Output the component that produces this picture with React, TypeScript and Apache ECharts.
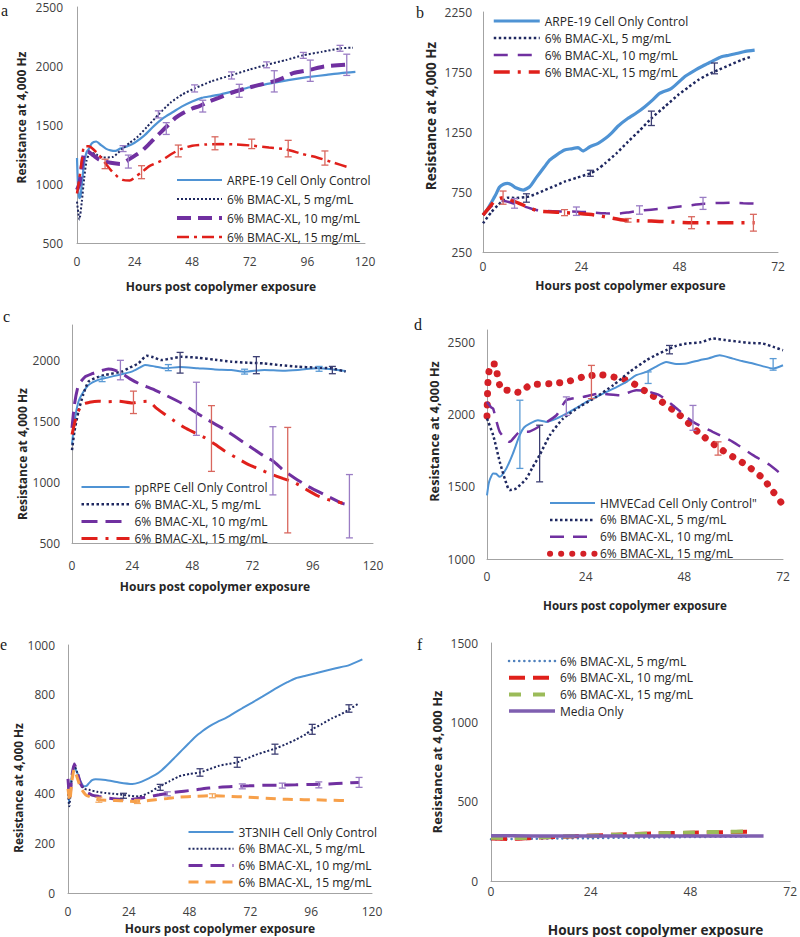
import React, { useEffect, useRef } from 'react';
import * as echarts from 'echarts';

// ---------- Data (hours, resistance) ----------
// Panel a: ARPE-19, 0-120 h
const aControl = [[0,1220],[0.5,950],[1,880],[1.5,900],[2,1000],[3,1180],[4,1270],[5,1300],[6,1340],[7,1355],[8,1360],[10,1330],[12,1300],[14,1285],[16,1280],[18,1300],[21,1320],[24,1350],[28,1410],[32,1490],[36,1560],[40,1610],[44,1660],[48,1700],[52,1730],[56,1745],[60,1760],[66,1790],[72,1820],[80,1850],[88,1880],[96,1905],[104,1925],[110,1940],[116,1950]];
const aFive = [[0,850],[0.5,760],[1,700],[2,850],[3,1050],[4,1200],[5,1250],[6,1265],[8,1250],[11,1225],[15,1230],[19,1300],[22,1350],[25,1395],[29,1480],[34,1590],[39,1690],[44,1760],[49,1810],[56,1870],[64,1920],[72,1970],[79,2010],[87,2050],[94,2090],[102,2120],[110,2150],[115,2155]];
const aTen = [[0,950],[1,1000],[2,1150],[3,1265],[4,1275],[5,1270],[7,1240],[9,1210],[11,1195],[14,1180],[18,1170],[21,1200],[23,1226],[27,1280],[30,1338],[33,1400],[35,1440],[38,1500],[41,1560],[44,1600],[48,1640],[51,1660],[54,1690],[59,1730],[64,1770],[70,1808],[76,1840],[82,1870],[86,1900],[90,1940],[97,1968],[103,1996],[112,2010]];
const aFifteen = [[0,920],[1,1050],[2,1200],[3,1320],[5,1320],[7,1290],[9,1250],[11,1196],[14,1120],[17,1060],[19,1035],[22,1030],[25,1070],[27,1100],[30,1150],[35,1196],[39,1250],[43,1294],[48,1325],[54,1335],[60,1338],[66,1335],[72,1327],[80,1310],[87,1294],[94,1254],[100,1225],[107,1180],[113,1142]];
// error bars: [hour, mean, sd]
const aFiveErr = [[19.2,1300,25],[33.9,1590,30],[49,1810,30],[64.4,1920,30],[79,2010,25],[94.3,2090,25],[109.6,2150,25]];
const aTenErr = [[21.4,1190,55],[37.2,1470,50],[52.4,1660,50],[67.6,1790,55],[82.2,1870,90],[97.2,1960,90],[112.4,2010,90]];
const aFifteenErr = [[11.7,1170,40],[26.9,1100,55],[42.2,1280,50],[57.5,1345,55],[72.8,1340,40],[88,1300,70],[103.3,1220,60]];

// Panel b: ARPE-19, 0-72 h
const bControl = [[0,558],[1,600],[2,660],[3,720],[4,790],[5,815],[6,822],[7,810],[8,785],[9.8,766],[11.4,794],[13,870],[15,960],[16.3,1017],[18,1060],[19.9,1100],[21.5,1110],[23.2,1119],[24.4,1092],[26,1125],[28.1,1156],[30,1200],[31.3,1239],[33,1300],[35.4,1364],[37.5,1410],[39.5,1461],[41.5,1520],[43.1,1572],[46,1614],[49.2,1711],[51.5,1760],[54.1,1808],[56,1840],[58.2,1878],[60,1890],[62.2,1906],[64,1922],[66.3,1933]];
const bFive = [[0,489],[2,580],[3.7,642],[6.1,703],[8,700],[11,711],[13,735],[15.1,766],[17.5,800],[19.9,836],[23,870],[26.2,906],[28,940],[29.8,989],[32.5,1070],[35.4,1169],[38.3,1265],[41.1,1364],[44.5,1465],[47.6,1558],[50,1620],[52.5,1683],[55,1730],[57.4,1767],[60,1805],[63.1,1850],[65.5,1878]];
const bTen = [[0,558],[2,630],[3.7,675],[5,675],[6.9,661],[9,640],[11,620],[13,600],[15.1,592],[19,588],[23.2,586],[27.3,578],[30,572],[33,570],[35.5,580],[37.8,592],[41,603],[44.4,614],[47,625],[49.2,633],[52,645],[54.1,653],[57,658],[60.6,661],[63.5,657],[66.3,653]];
const bFifteen = [[0,558],[1.5,620],[2.85,675],[4.9,703],[7,680],[9.4,647],[11.5,615],[13.4,592],[16,585],[19.9,578],[23.5,570],[27.3,558],[31,535],[34.6,514],[38,510],[41.1,508],[45,502],[50.9,494],[56,494],[61,494],[66.3,494]];
const bFiveErr = [[10.6,700,35],[26.2,906,25],[41.1,1364,60],[56.5,1780,45]];
const bTenErr = [[7.7,655,40],[22.8,590,35],[38.2,600,35],[53.7,655,50]];
const bFifteenErr = [[4.9,703,55],[19.9,578,25],[35.4,514,15],[50.9,494,50],[66,494,70]];

// Panel c: ppRPE, 0-120 h
const cControl = [[0,1307],[1,1500],[2.6,1662],[4.5,1740],[6.6,1798],[10.5,1839],[14.5,1860],[18.5,1880],[23.8,1907],[27,1940],[29.1,1962],[33,1950],[37,1935],[43,1945],[50.2,1935],[57,1925],[63.5,1921],[68.8,1907],[76.7,1921],[84,1915],[90,1921],[97.9,1935],[104,1925],[109.1,1913]];
const cFive = [[0,1263],[1,1420],[2.6,1582],[4.5,1720],[6.6,1825],[10,1860],[13.2,1880],[19.8,1907],[23,1940],[26.5,1975],[29.8,2037],[32.5,2025],[35.7,2002],[39.5,2015],[43.7,2029],[50.3,2021],[57,2005],[63.5,1989],[70,1980],[76.7,1975],[83,1960],[90,1948],[97,1940],[103.2,1935],[109.1,1907]];
const cTen = [[0,1446],[1,1640],[2.6,1798],[5.3,1866],[8,1890],[10.5,1907],[14.5,1929],[17,1920],[19.8,1893],[23,1850],[26.5,1811],[32,1765],[37.1,1716],[43.7,1648],[48,1590],[53,1525],[60.9,1430],[68.8,1321],[76.7,1212],[80,1175],[84.7,1090],[89,1030],[93.9,967],[101.9,885],[107.8,825],[110,815]];
const cFifteen = [[0,1391],[1,1480],[2,1555],[4,1637],[7,1655],[10.5,1664],[14,1660],[18.5,1664],[23.8,1650],[27,1660],[30.4,1664],[33.5,1610],[37.1,1555],[41,1500],[45,1446],[49,1405],[53,1364],[57,1310],[60.9,1255],[65.5,1200],[70.2,1146],[74.8,1105],[79.4,1065],[84,1030],[88.7,997],[93,945],[97.9,888],[103,850],[107.8,829]];
const cControlErr = [[12,1845,20],[38.4,1940,25],[68.8,1907,20],[98.5,1930,20]];
const cFiveErr = [[43.1,1980,85],[73.5,1960,70],[103.8,1920,30]];
const cTenErr = [[19.3,1920,80],[49.6,1602,218],[80.1,1175,280],[110.6,802,260]];
const cFifteenErr = [[24.5,1655,92],[55.6,1358,270],[86,1016,433]];

// Panel d: HMVECad, 0-72 h
const dControl = [[0,1440],[0.4,1520],[0.8,1558],[1.5,1592],[2.2,1590],[3.1,1569],[4.7,1627],[6.3,1730],[7.95,1857],[9,1910],[10.4,1937],[12.4,1960],[14.4,1949],[16.9,1972],[20.1,2018],[22,2050],[24.2,2087],[26.5,2120],[29,2156],[31.5,2190],[33.9,2226],[36.3,2272],[38.8,2295],[41,2330],[43.6,2364],[46,2350],[48.5,2353],[51.7,2376],[54,2390],[56.6,2410],[59.8,2387],[62,2370],[64.7,2353],[67,2335],[69.6,2318],[72,2341]];
const dFive = [[0,1972],[1.5,1857],[3.1,1673],[4.5,1540],[5.5,1477],[7.1,1488],[9.6,1558],[11,1630],[12.8,1719],[15.3,1857],[18.5,1972],[22.5,2053],[26.6,2122],[30.7,2203],[34.7,2295],[38.8,2376],[41,2410],[43.6,2445],[46,2475],[48.5,2491],[52,2500],[55,2526],[58,2515],[61.5,2503],[64,2495],[67.1,2491],[70,2465],[72,2445]];
const dTen = [[0,2087],[1,2050],[1.5,2041],[3.1,1880],[5.5,1811],[8,1880],[10,1880],[13.2,1926],[16.9,1995],[19.3,2099],[23.4,2122],[27.4,2145],[32.3,2133],[36.3,2168],[39,2160],[42,2133],[45.2,2064],[50.1,1949],[54.9,1880],[59.8,1811],[64.7,1719],[68.8,1650],[72,1576]];
const dFifteen = [[0,1990],[0.3,2260],[1,2350],[2,2350],[2.6,2260],[3.6,2170],[5.5,2168],[8,2152],[10.4,2203],[15.3,2214],[19.3,2226],[23.4,2260],[27.4,2276],[32.3,2250],[34.7,2230],[38.8,2156],[42,2099],[46.9,1995],[51.7,1869],[56.6,1765],[59.8,1707],[63.1,1650],[67.1,1558],[69.6,1466],[72,1374]];
const dControlErr = [[8,1863,236],[39.2,2255,40],[69.6,2347,40]];
const dFiveErr = [[12.8,1730,196],[44.4,2449,29]];
const dTenErr = [[19.3,2058,64],[50.1,1977,86]];
const dFifteenErr = [[25.4,2225,115],[56.2,1765,46]];

// Panel e: 3T3NIH, 0-120 h
const eControl = [[0,440],[0.4,362],[1,430],[1.8,490],[2.4,510],[3.2,495],[3.7,483],[5,450],[6.3,430],[7.3,432],[8.3,443],[9.5,455],[10.9,459],[14.9,456],[20.1,446],[25.4,440],[28,445],[30.6,456],[34.6,477],[37,495],[39.9,523],[42.5,550],[45.1,577],[47.8,605],[50.4,631],[53,652],[55.6,671],[59,690],[62.2,705],[65.5,725],[68.8,745],[72.7,768],[76.7,792],[80,812],[83.3,832],[86.6,850],[89.9,866],[93.8,876],[97.8,886],[101.7,896],[105.7,906],[111,919],[116.2,942]];
const eFive = [[0,400],[0.5,350],[1.5,460],[2.5,515],[3.5,490],[5,440],[6.5,420],[8.3,416],[11.5,408],[14.9,403],[18,400],[21.4,396],[24.5,392],[28,389],[32,405],[35.9,428],[40,450],[43.8,470],[48,480],[52,486],[56,500],[59.6,513],[63,520],[66.8,527],[70.5,542],[74.1,557],[78,570],[81.7,582],[86,600],[89.9,618],[93.8,640],[96.4,660],[100,680],[104.3,705],[107.6,720],[110.9,740],[114.9,765]];
const eTen = [[0,460],[0.7,380],[1.5,470],[2.5,520],[3.5,495],[5,440],[7,409],[9.5,395],[12.2,389],[15.5,383],[18.8,379],[24.1,376],[28,382],[32,389],[36,396],[39.9,403],[43.8,408],[47.8,413],[51.7,418],[55.6,423],[61,427],[66.2,430],[71.5,432],[76.7,434],[83.3,435],[89.9,436],[96.5,438],[103,440],[109,443],[114.9,446]];
const eFifteen = [[0,420],[0.7,370],[1.5,450],[2.5,500],[3.5,470],[5,425],[7,396],[9.5,385],[12.2,376],[15.5,374],[18.8,373],[22.7,371],[26.7,369],[30.7,372],[34.6,376],[39.2,381],[43.8,387],[50.4,390],[57,392],[63.6,390],[70.2,387],[76.7,383],[83.3,379],[89.9,377],[96.5,376],[103.7,374],[110.9,372]];
const eFiveErr = [[21.9,392,10],[36.4,426,12],[52.1,486,15],[66.8,527,20],[81.7,580,20],[96.4,660,20],[110.9,744,15]];
const eTenErr = [[39.2,400,8],[68.8,430,10],[84.6,433,10],[99,436,12],[114.9,446,20]];
const eFifteenErr = [[12.2,376,10],[27.4,369,8],[57,392,8]];

// Panel f: media only, 0-72 h
const fFive = [[0,263],[8,265],[16,268],[24,270],[32,273],[40,275],[48,277],[56,279],[62,280]];
const fTen = [[0,268],[5,265],[10,272],[20,282],[30,292],[40,300],[50,305],[56,308],[62,310]];
const fFifteen = [[0,272],[5,270],[10,274],[20,283],[30,292],[40,300],[50,306],[56,310],[62,312]];
const fMedia = [[0,285],[10,284],[20,283],[30,284],[40,284],[50,284],[60,284],[65.6,284]];

// Labels
const XTITLE = 'Hours post copolymer exposure';
const YTITLE = 'Resistance at 4,000 Hz';
const L5 = '6% BMAC-XL, 5 mg/mL';
const L10 = '6% BMAC-XL, 10 mg/mL';
const L15 = '6% BMAC-XL, 15 mg/mL';

// ---------- Styles ----------
const FONT = '"Open Sans", "Noto Sans", sans-serif';
const BLUE = '#4f93d4';
const NAVY = '#1f2860';
const PURPLE = '#7030a0';
const RED = '#e0201b';
const ORANGE = '#f7a04a';
const GREEN = '#9bbb59';
const MEDIA = '#7f5fb0';
const FBLUE = '#4f81bd';

const E_BLUE = '#5b9bd5';
const E_NAVY = '#3d3f73';
const E_PURPLE = '#9a7cc4';
const E_RED = '#d9675e';
const E_ORANGE = '#f3a85f';

function xAxis(gi: number, max: number, gap: number, margin: number, nameSize: number, namePad?: number[]) {
  return {
    type: 'value', gridIndex: gi, min: 0, max, interval: 24,
    axisLine: { show: true, onZero: false, lineStyle: { color: '#a3a3a3', width: 1 } },
    axisTick: { show: false }, splitLine: { show: false },
    axisLabel: { color: '#404040', fontSize: 12, fontFamily: FONT, margin },
    name: XTITLE, nameLocation: 'middle', nameGap: gap,
    nameTextStyle: { fontWeight: 'bold', fontSize: nameSize, color: '#262626', fontFamily: FONT, padding: namePad || 0 },
  };
}

function yAxis(gi: number, min: number, max: number, interval: number, gap: number, margin: number, nameSize: number, namePad?: number[]) {
  return {
    type: 'value', gridIndex: gi, min, max, interval,
    axisLine: { show: true, onZero: false, lineStyle: { color: '#a3a3a3', width: 1 } },
    axisTick: { show: false }, splitLine: { show: false },
    axisLabel: {
      color: '#404040', fontSize: 12, fontFamily: FONT, margin,
      formatter: (v: number) => (Math.abs((v - min) % interval) < 1e-6 ? String(v) : ''),
    },
    name: YTITLE, nameLocation: 'middle', nameGap: gap,
    nameTextStyle: { fontWeight: 'bold', fontSize: nameSize, color: '#262626', fontFamily: FONT, padding: namePad || 0 },
  };
}

function line(name: string, gi: number, data: number[][], color: string, width: number, type: any, cap = 'butt', z = 3) {
  return {
    type: 'line', name, xAxisIndex: gi, yAxisIndex: gi, data,
    symbol: 'none', showSymbol: false, smooth: 0.2, silent: true, z,
    color, itemStyle: { color },
    lineStyle: { color, width, type, cap },
  };
}

function errBars(name: string, gi: number, stats: number[][], color: string, cap = 3.5) {
  return {
    type: 'custom', name, xAxisIndex: gi, yAxisIndex: gi, silent: true, z: 6,
    data: stats.map(([h, m, s]) => [h, m - s, m + s]),
    encode: { x: 0, y: [1, 2] },
    itemStyle: { color },
    renderItem: (_params: any, api: any) => {
      const h = api.value(0);
      const top = api.coord([h, api.value(2)]);
      const bot = api.coord([h, api.value(1)]);
      const style = { stroke: color, lineWidth: 1.3, fill: 'none' };
      return {
        type: 'group',
        children: [
          { type: 'line', shape: { x1: top[0], y1: top[1], x2: bot[0], y2: bot[1] }, style },
          { type: 'line', shape: { x1: top[0] - cap, y1: top[1], x2: top[0] + cap, y2: top[1] }, style },
          { type: 'line', shape: { x1: bot[0] - cap, y1: bot[1], x2: bot[0] + cap, y2: bot[1] }, style },
        ],
      };
    },
  };
}

function legend(left: number, top: number, itemWidth: number, itemGap: number, items: any[]) {
  return {
    left, top, orient: 'vertical', itemWidth, itemHeight: 12, itemGap,
    selectedMode: false, padding: 0,
    formatter: (n: string) => n.slice(2),
    textStyle: { color: '#262626', fontSize: 12, fontFamily: FONT },
    itemStyle: { opacity: 0 },
    data: items.map(([name, width, cap]) => ({ name, lineStyle: cap ? { width, cap } : { width } })),
  };
}

function panelLabel(text: string, x: number, y: number) {
  return {
    type: 'text', x, y, silent: true,
    style: { text, fill: '#1a1a1a', font: '16px "Liberation Serif", serif', align: 'left', verticalAlign: 'middle' },
  };
}

const DASH_A10 = [14, 7];
const DASH_DOT = [12, 5, 3, 5];

function buildOption() {
  const n = (p: string, s: string) => p + '|' + s;
  return {
    animation: false,
    grid: [
      { left: 77, top: 7, width: 288, height: 236 },
      { left: 483, top: 12, width: 295, height: 240 },
      { left: 72, top: 325, width: 301, height: 218 },
      { left: 487, top: 330, width: 296, height: 229 },
      { left: 68, top: 645, width: 304, height: 248 },
      { left: 491, top: 643, width: 302, height: 244 },
    ],
    xAxis: [
      xAxis(0, 120, 37, 12, 12),
      xAxis(1, 72, 27, 8, 12),
      xAxis(2, 120, 37, 16, 12, [0, 15, 0, 0]),
      xAxis(3, 72, 40, 11, 11.6),
      xAxis(4, 120, 29, 12, 12),
      xAxis(5, 72, 41, 4, 13.6, [0, 0, 0, 30]),
    ],
    yAxis: [
      yAxis(0, 500, 2500, 500, 50, 14, 12, [0, 0, 0, 15]),
      yAxis(1, 250, 2250, 500, 45, 11, 13.5, [0, 0, 0, 32]),
      yAxis(2, 500, 2290, 500, 44, 12, 12, [0, 40, 0, 0]),
      yAxis(3, 1000, 2585, 500, 47, 12, 12.8, [0, 0, 0, 26]),
      yAxis(4, 0, 1000, 200, 41, 13, 11.8, [0, 38, 0, 0]),
      yAxis(5, 0, 1500, 500, 48, 13, 13, [0, 0, 0, 0]),
    ],
    legend: [
      legend(175, 174, 45, 7, [[n('a', 'ARPE-19 Cell Only Control'), 2.2], [n('a', L5), 2], [n('a', L10), 4], [n('a', L15), 2.5]]),
      legend(492, 15, 46, 5, [[n('b', 'ARPE-19 Cell Only Control'), 3.2], [n('b', L5), 2.5], [n('b', L10), 2.5], [n('b', L15), 3.5]]),
      legend(80, 481, 48, 5.2, [[n('c', 'ppRPE Cell Only Control'), 2], [n('c', L5), 2.5], [n('c', L10), 3], [n('c', L15), 3]]),
      legend(547, 497, 45, 4.9, [[n('d', 'HMVECad Cell Only Control"'), 2], [n('d', L5), 2.5], [n('d', L10), 2.5], [n('d', L15), 6, 'round']]),
      legend(187, 826, 45, 4.7, [[n('e', '3T3NIH Cell Only Control'), 2], [n('e', L5), 2], [n('e', L10), 3], [n('e', L15), 3]]),
      legend(507, 655, 46, 4.7, [[n('f', L5), 2.5, 'round'], [n('f', L10), 4], [n('f', L15), 4], [n('f', 'Media Only'), 3.5]]),
    ],
    series: [
      // a
      line(n('a', 'ARPE-19 Cell Only Control'), 0, aControl, BLUE, 2.2, 'solid'),
      line(n('a', L5), 0, aFive, NAVY, 2, 'dotted'),
      line(n('a', L10), 0, aTen, PURPLE, 4, DASH_A10),
      line(n('a', L15), 0, aFifteen, RED, 2.5, DASH_DOT),
      errBars('a-e5', 0, aFiveErr, E_PURPLE),
      errBars('a-e10', 0, aTenErr, E_PURPLE),
      errBars('a-e15', 0, aFifteenErr, E_RED),
      // b
      line(n('b', 'ARPE-19 Cell Only Control'), 1, bControl, BLUE, 3.2, 'solid'),
      line(n('b', L5), 1, bFive, NAVY, 2.5, 'dotted'),
      line(n('b', L10), 1, bTen, PURPLE, 2.5, [14, 10]),
      line(n('b', L15), 1, bFifteen, RED, 3.5, [16, 8, 3, 8]),
      errBars('b-e5', 1, bFiveErr, E_NAVY),
      errBars('b-e10', 1, bTenErr, E_PURPLE),
      errBars('b-e15', 1, bFifteenErr, E_RED),
      // c
      line(n('c', 'ppRPE Cell Only Control'), 2, cControl, BLUE, 2, 'solid'),
      line(n('c', L5), 2, cFive, NAVY, 2.5, 'dotted'),
      line(n('c', L10), 2, cTen, PURPLE, 3, [16, 8]),
      line(n('c', L15), 2, cFifteen, RED, 3, [16, 8, 3, 8]),
      errBars('c-ec', 2, cControlErr, E_BLUE),
      errBars('c-e5', 2, cFiveErr, E_NAVY),
      errBars('c-e10', 2, cTenErr, E_PURPLE),
      errBars('c-e15', 2, cFifteenErr, E_RED),
      // d
      line(n('d', 'HMVECad Cell Only Control"'), 3, dControl, BLUE, 2, 'solid'),
      line(n('d', L5), 3, dFive, NAVY, 2.5, 'dotted'),
      line(n('d', L10), 3, dTen, PURPLE, 2.5, [14, 9]),
      line(n('d', L15), 3, dFifteen, '#d42026', 7, [0.1, 11], 'round', 2),
      errBars('d-ec', 3, dControlErr, E_BLUE),
      errBars('d-e5', 3, dFiveErr, E_NAVY),
      errBars('d-e10', 3, dTenErr, E_PURPLE),
      errBars('d-e15', 3, dFifteenErr, E_RED),
      // e
      line(n('e', '3T3NIH Cell Only Control'), 4, eControl, BLUE, 2, 'solid'),
      line(n('e', L5), 4, eFive, NAVY, 2, 'dotted'),
      line(n('e', L10), 4, eTen, PURPLE, 3, [14, 8]),
      line(n('e', L15), 4, eFifteen, ORANGE, 3, [10, 7]),
      errBars('e-e5', 4, eFiveErr, E_NAVY),
      errBars('e-e10', 4, eTenErr, E_PURPLE),
      errBars('e-e15', 4, eFifteenErr, E_ORANGE),
      // f
      line(n('f', 'Media Only'), 5, fMedia, MEDIA, 3.5, 'solid', 'butt', 4),
      line(n('f', L5), 5, fFive, FBLUE, 2.5, [0.1, 5], 'round', 3),
      line(n('f', L10), 5, fTen, RED, 4, [16, 8], 'butt', 3),
      line(n('f', L15), 5, fFifteen, GREEN, 4, [12, 12], 'butt', 3),
    ],
    graphic: [
      panelLabel('a', 1, 10),
      panelLabel('b', 416, 12.5),
      panelLabel('c', 3, 316.5),
      panelLabel('d', 414, 324.5),
      panelLabel('e', 0, 644.5),
      panelLabel('f', 417, 644.5),
    ],
  };
}

export default function App() {
  const ref = useRef<HTMLDivElement>(null);
  useEffect(() => {
    if (!ref.current) return;
    const chart = echarts.init(ref.current, undefined, { renderer: 'svg' });
    chart.setOption(buildOption() as any);
    return () => chart.dispose();
  }, []);
  return (
    <div
      ref={ref}
      style={{ position: 'absolute', left: 0, top: 0, width: 800, height: 937, background: '#ffffff' }}
    />
  );
}
